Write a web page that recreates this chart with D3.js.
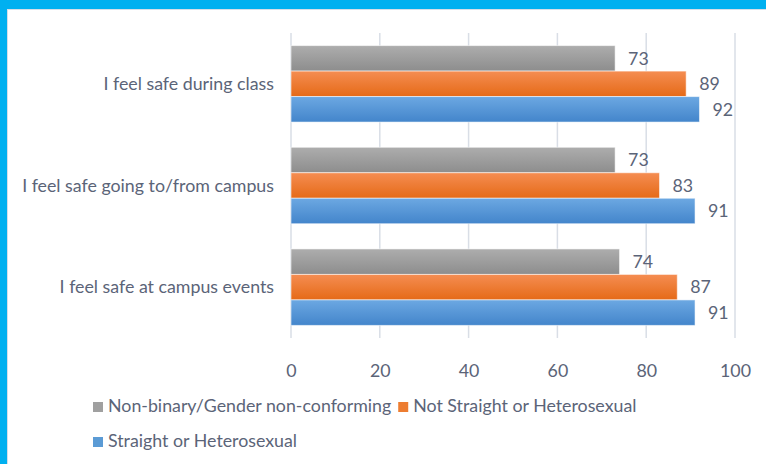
<!DOCTYPE html>
<html>
<head>
<meta charset="utf-8">
<script src="https://cdn.jsdelivr.net/npm/d3@7"></script>
<style>
  html, body { margin: 0; padding: 0; background: #fff; }
  svg { display: block; font-family: Lato, "Open Sans", sans-serif; }
</style>
</head>
<body>
<svg id="chart" width="766" height="464"></svg>
<script>
var categories = ["I feel safe during class", "I feel safe going to/from campus", "I feel safe at campus events"];
var seriesNames = ["Non-binary/Gender non-conforming", "Not Straight or Heterosexual", "Straight or Heterosexual"];
var nonBinary = [73, 73, 74];
var notStraight = [89, 83, 87];
var straight = [92, 91, 91];
var xTicks = [0, 20, 40, 60, 80, 100];

var seriesValues = [nonBinary, notStraight, straight];
var gradStops = [["#adadad", "#8d8d8d"], ["#f58d52", "#e56a17"], ["#6ca8e2", "#4385cb"]];
var swatch = ["#a0a0a0", "#ed7d31", "#5b9bd5"];
var textColor = "#5b6478";
var fontSize = "17.8px";

var svg = d3.select("#chart"),
  margin = {top: 33, right: 31, bottom: 126, left: 291},
  width = +svg.attr("width") - margin.left - margin.right,
  height = +svg.attr("height") - margin.top - margin.bottom;

// frame
svg.append("rect").attr("x", 0).attr("y", 0).attr("width", 766).attr("height", 464).attr("fill", "#00b0f0");
svg.append("rect").attr("x", 7).attr("y", 9).attr("width", 759).attr("height", 455).attr("fill", "#d6dee8");
svg.append("rect").attr("x", 8).attr("y", 10).attr("width", 758).attr("height", 454).attr("fill", "#ffffff");

var defs = svg.append("defs");
gradStops.forEach(function(s, i) {
  var lg = defs.append("linearGradient").attr("id", "grad" + i)
    .attr("x1", 0).attr("y1", 0).attr("x2", 0).attr("y2", 1);
  lg.append("stop").attr("offset", "0%").attr("stop-color", s[0]);
  lg.append("stop").attr("offset", "100%").attr("stop-color", s[1]);
});

var x = d3.scaleLinear().domain([0, 100]).range([0, width]);
var y0 = d3.scaleBand().domain(categories).range([0, height]).paddingInner(0.248).paddingOuter(0.124);
var y1 = d3.scaleBand().domain(d3.range(seriesNames.length)).range([0, y0.bandwidth()]);

var g = svg.append("g")
  .attr("transform", "translate(" + margin.left + "," + margin.top + ")");

// grid lines
g.selectAll(".grid")
  .data(xTicks)
  .enter().append("line")
  .attr("x1", function(d) { return x(d); })
  .attr("x2", function(d) { return x(d); })
  .attr("y1", 0)
  .attr("y2", height)
  .attr("stroke", "#d9dee6")
  .attr("stroke-width", 1.5);

// x axis labels
g.append("g")
  .attr("transform", "translate(0," + height + ")")
  .call(d3.axisBottom(x).tickValues(xTicks).tickSize(0).tickPadding(26))
  .call(function(a) { a.select(".domain").remove(); })
  .selectAll("text")
  .attr("fill", textColor)
  .style("font-size", fontSize)
  .style("font-family", "Lato, sans-serif");

// category labels
g.selectAll(".cat")
  .data(categories)
  .enter().append("text")
  .attr("x", -17)
  .attr("y", function(d) { return y0(d) + y0.bandwidth() / 2; })
  .attr("dy", "0.35em")
  .attr("text-anchor", "end")
  .attr("fill", textColor)
  .style("font-size", fontSize)
  .text(function(d) { return d; });

// bars
var groups = g.selectAll(".group")
  .data(categories)
  .enter().append("g")
  .attr("transform", function(d) { return "translate(0," + y0(d) + ")"; });

groups.selectAll("rect")
  .data(function(d, i) { return seriesValues.map(function(s, j) { return {s: j, v: s[i]}; }); })
  .enter().append("rect")
  .attr("x", 0)
  .attr("y", function(d) { return y1(d.s); })
  .attr("width", function(d) { return x(d.v); })
  .attr("height", y1.bandwidth())
  .attr("fill", function(d) { return "url(#grad" + d.s + ")"; })
  .attr("stroke", "rgba(255,255,255,0.55)")
  .attr("stroke-width", 1);

groups.selectAll(".val")
  .data(function(d, i) { return seriesValues.map(function(s, j) { return {s: j, v: s[i]}; }); })
  .enter().append("text")
  .attr("x", function(d) { return x(d.v) + 13; })
  .attr("y", function(d) { return y1(d.s) + y1.bandwidth() / 2; })
  .attr("dy", "0.35em")
  .attr("fill", textColor)
  .style("font-size", fontSize)
  .text(function(d) { return d.v; });

// legend
var legendRows = [[0, 1], [2]];
var rowY = [412, 447];
legendRows.forEach(function(row, r) {
  var lx = 93;
  row.forEach(function(si) {
    svg.append("rect")
      .attr("x", lx).attr("y", rowY[r] - 10)
      .attr("width", 10).attr("height", 10)
      .attr("fill", swatch[si]);
    var t = svg.append("text")
      .attr("x", lx + 15).attr("y", rowY[r])
      .attr("fill", textColor)
      .style("font-size", fontSize)
      .text(seriesNames[si]);
    lx += 15 + t.node().getComputedTextLength() + 7;
  });
});
</script>
</body>
</html>
